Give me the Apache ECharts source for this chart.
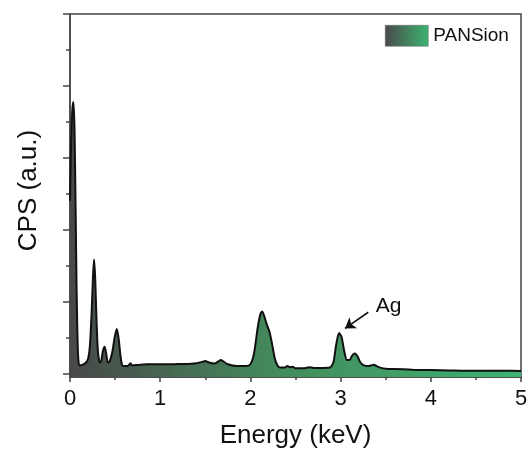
<!DOCTYPE html>
<html>
<head>
<meta charset="utf-8">
<script src="https://cdn.jsdelivr.net/npm/echarts@6/dist/echarts.min.js"></script>
<style>
html,body{margin:0;padding:0;background:#fff;}
#chart{width:531px;height:458px;}
</style>
</head>
<body>
<div id="chart"></div>
<script>
// Energy (keV) sample positions
var energy = [0.000,0.010,0.025,0.038,0.050,0.062,0.074,0.085,0.095,0.110,0.140,0.170,0.200,0.220,0.240,0.255,0.267,0.280,0.295,0.310,0.330,0.345,0.365,0.384,0.400,0.420,0.440,0.470,0.495,0.519,0.540,0.560,0.580,0.620,0.650,0.670,0.690,0.750,0.850,1.000,1.100,1.200,1.300,1.400,1.470,1.500,1.540,1.600,1.650,1.670,1.700,1.750,1.850,1.950,2.000,2.040,2.080,2.110,2.130,2.150,2.180,2.210,2.240,2.270,2.300,2.330,2.380,2.410,2.440,2.470,2.500,2.600,2.650,2.700,2.800,2.880,2.920,2.950,2.983,3.010,3.040,3.070,3.100,3.130,3.160,3.190,3.220,3.260,3.300,3.340,3.370,3.400,3.450,3.500,3.600,3.800,4.000,4.200,4.500,4.800,5.000];
// CPS (arbitrary units, in y-tick steps)
var cps = [4.8,6.2,7.3,7.55,6.8,4.6,2.2,0.8,0.32,0.22,0.24,0.28,0.4,0.75,1.7,2.7,3.17,2.6,1.4,0.6,0.3,0.33,0.62,0.74,0.57,0.3,0.33,0.6,1.0,1.23,0.95,0.48,0.22,0.2,0.22,0.28,0.22,0.23,0.25,0.25,0.25,0.26,0.26,0.28,0.32,0.34,0.3,0.27,0.34,0.37,0.33,0.25,0.2,0.2,0.25,0.55,1.25,1.64,1.72,1.62,1.37,1.17,0.82,0.42,0.22,0.16,0.16,0.2,0.17,0.18,0.14,0.14,0.17,0.15,0.15,0.16,0.3,0.78,1.12,1.02,0.62,0.37,0.37,0.5,0.55,0.46,0.3,0.22,0.2,0.22,0.24,0.2,0.15,0.13,0.12,0.1,0.09,0.08,0.07,0.07,0.065];
var xTicks = [0,1,2,3,4,5];
var yMajorTicks = [0,2,4,6,8,10];
var yMinorTicks = [1,3,5,7,9];
var seriesName = 'PANSion';
var annotationText = 'Ag';
var arrowFrom = [3.307, 1.70];
var arrowTo = [3.049, 1.25];
var labelAt = [3.39, 1.875];

var pairs = energy.map(function(e, i){ return [e, cps[i]]; });

function grad(){
  return new echarts.graphic.LinearGradient(0,0,1,0,[
    {offset:0,color:'#484848'},
    {offset:0.45,color:'#448a5c'},
    {offset:1,color:'#3cb371'}
  ]);
}
function legendGrad(){
  return new echarts.graphic.LinearGradient(0,0,1,0,[
    {offset:0,color:'#4a4a4a'},
    {offset:1,color:'#3cb371'}
  ]);
}

var chart = echarts.init(document.getElementById('chart'), null, {renderer:'canvas'});
var axisColor = '#444';
var textColor = '#111';
var font = 'Liberation Sans, Arial, Helvetica, sans-serif';

chart.setOption({
  animation:false,
  backgroundColor:'#fff',
  textStyle:{fontFamily:font},
  grid:{left:70,right:10,top:14,bottom:81,containLabel:false,outerBoundsMode:'none',
        show:true,borderColor:axisColor,borderWidth:1.5,backgroundColor:'transparent'},
  legend:{
    left:385, top:25, padding:0, itemWidth:43, itemHeight:21, icon:'rect',
    textStyle:{fontSize:19,color:textColor,fontFamily:font},
    data:[{name:seriesName, itemStyle:{color:legendGrad(), borderColor:'#666', borderWidth:0.5}}]
  },
  xAxis:{
    type:'value', min:0, max:5, interval:1,
    name:'Energy (keV)', nameLocation:'middle', nameGap:46,
    nameTextStyle:{fontSize:26,color:textColor,fontFamily:font},
    axisLine:{show:true,onZero:false,lineStyle:{color:axisColor,width:1.5}},
    axisTick:{show:true,inside:false,length:5,lineStyle:{color:axisColor,width:1.5}},
    minorTick:{show:true,splitNumber:2,length:3,lineStyle:{color:axisColor,width:1.5}},
    axisLabel:{fontSize:22,color:textColor,margin:11,fontFamily:font,
      customValues:xTicks},
    splitLine:{show:false}
  },
  yAxis:[{
    type:'value', min:-0.103, max:10,
    name:'CPS (a.u.)', nameLocation:'middle', nameGap:28,
    nameTextStyle:{fontSize:26,color:textColor,fontFamily:font,padding:[0,0,0,10]},
    axisLine:{show:true,onZero:false,lineStyle:{color:axisColor,width:1.5}},
    axisTick:{show:true,inside:false,length:7,customValues:yMajorTicks,lineStyle:{color:axisColor,width:1.5}},
    axisLabel:{show:false},
    splitLine:{show:false}
  },{
    type:'value', min:-0.103, max:10, position:'left',
    axisLine:{show:false},
    axisTick:{show:true,inside:false,length:4,customValues:yMinorTicks,lineStyle:{color:axisColor,width:1.5}},
    axisLabel:{show:false},
    splitLine:{show:false}
  }],
  series:[{
    name:seriesName, type:'line', data:pairs, xAxisIndex:0, yAxisIndex:0,
    showSymbol:false, smooth:0.25,
    itemStyle:{color:'#3cb371'},
    lineStyle:{color:'#111',width:2},
    areaStyle:{origin:'start',color:grad(),opacity:1},
    markLine:{
      silent:true, symbol:['none','arrow'], symbolSize:10,
      label:{show:false},
      lineStyle:{color:'#111',width:1.6,type:'solid'},
      emphasis:{disabled:true},
      data:[[{coord:arrowFrom, symbol:'none'},{coord:arrowTo, symbol:'arrow', symbolSize:10}]]
    },
    markPoint:{
      silent:true, symbol:'circle', symbolSize:0,
      label:{show:true,formatter:annotationText,position:'right',distance:0,
             fontSize:21,color:textColor,fontFamily:font},
      data:[{coord:labelAt}]
    }
  }]
});
</script>
</body>
</html>
